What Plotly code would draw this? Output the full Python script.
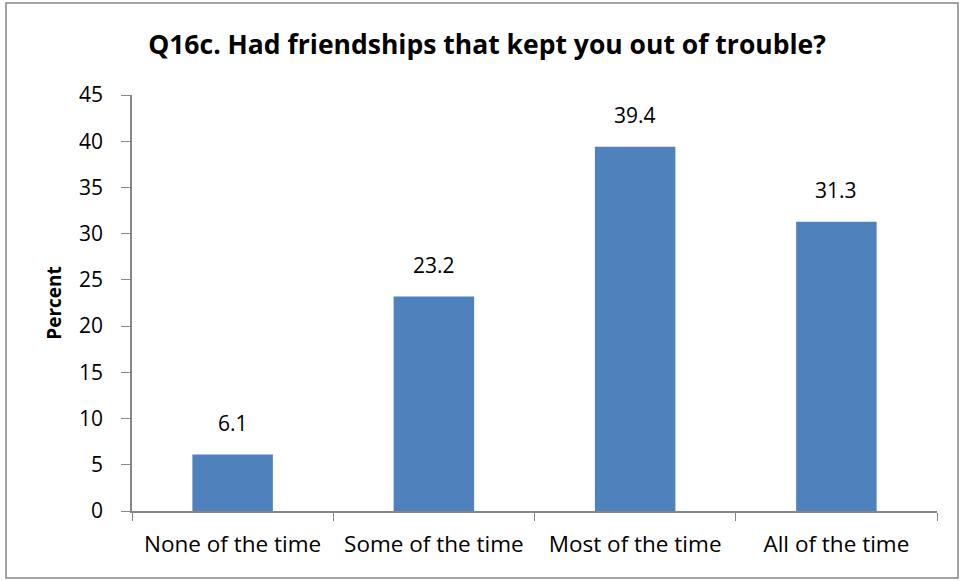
import plotly.graph_objects as go

categories = ["None of the time", "Some of the time", "Most of the time", "All of the time"]
percent = [6.1, 23.2, 39.4, 31.3]

TITLE = "Q16c. Had friendships that kept you out of trouble?"
FONT = "Open Sans, Calibri, sans-serif"
BAR_COLOR = "#4F81BD"
AXIS_COLOR = "#868686"

W, H = 964, 581
margin = {"l": 132, "r": 27, "t": 95, "b": 70}
plot_w = W - margin["l"] - margin["r"]
plot_h = H - margin["t"] - margin["b"]

fig = go.Figure()
fig.add_bar(
    x=categories, y=percent,
    marker={"color": BAR_COLOR, "line": {"width": 0}},
    hoverinfo="x+y",
)

# value labels sit well above each bar, as in the Excel original
for cat, val in zip(categories, percent):
    fig.add_annotation(
        x=cat, y=val, text=f"{val:.1f}", showarrow=False,
        yanchor="bottom", yshift=16,
        font={"size": 21, "family": FONT, "color": "#000000"},
    )

fig.update_layout(
    width=W, height=H,
    margin=margin,
    plot_bgcolor="white", paper_bgcolor="white",
    bargap=0.6,
    showlegend=False,
    font={"family": FONT, "size": 20, "color": "#000000"},
    title={
        "text": f"<b>{TITLE}</b>",
        "x": 487 / W, "xanchor": "center", "xref": "container",
        "y": 1 - 45 / H, "yanchor": "middle",
        "font": {"size": 26.5, "family": FONT},
    },
)
fig.update_xaxes(
    showline=True, linecolor=AXIS_COLOR, linewidth=1.5,
    ticks="outside", tickson="boundaries", ticklen=8, tickcolor=AXIS_COLOR,
    tickfont={"size": 22.5}, showgrid=False, ticklabelstandoff=12,
)
fig.update_yaxes(
    range=[0, 45], dtick=5,
    showline=True, linecolor=AXIS_COLOR, linewidth=1.5,
    ticks="outside", ticklen=9, tickcolor=AXIS_COLOR,
    tickfont={"size": 21}, showgrid=False, zeroline=False, ticklabelstandoff=14,
    title={"text": "<b>Percent</b>", "font": {"size": 19}, "standoff": 12},
)

# chart frame
fig.add_shape(
    type="rect", xref="paper", yref="paper",
    x0=(6 - margin["l"]) / plot_w, x1=(958 - margin["l"]) / plot_w,
    y0=-(578 - margin["t"] - plot_h) / plot_h, y1=1 + (margin["t"] - 3) / plot_h,
    line={"color": AXIS_COLOR, "width": 1.5},
)

fig.write_html("out.html", config={"displayModeBar": False},
               post_script="document.body.style.margin='0';")
